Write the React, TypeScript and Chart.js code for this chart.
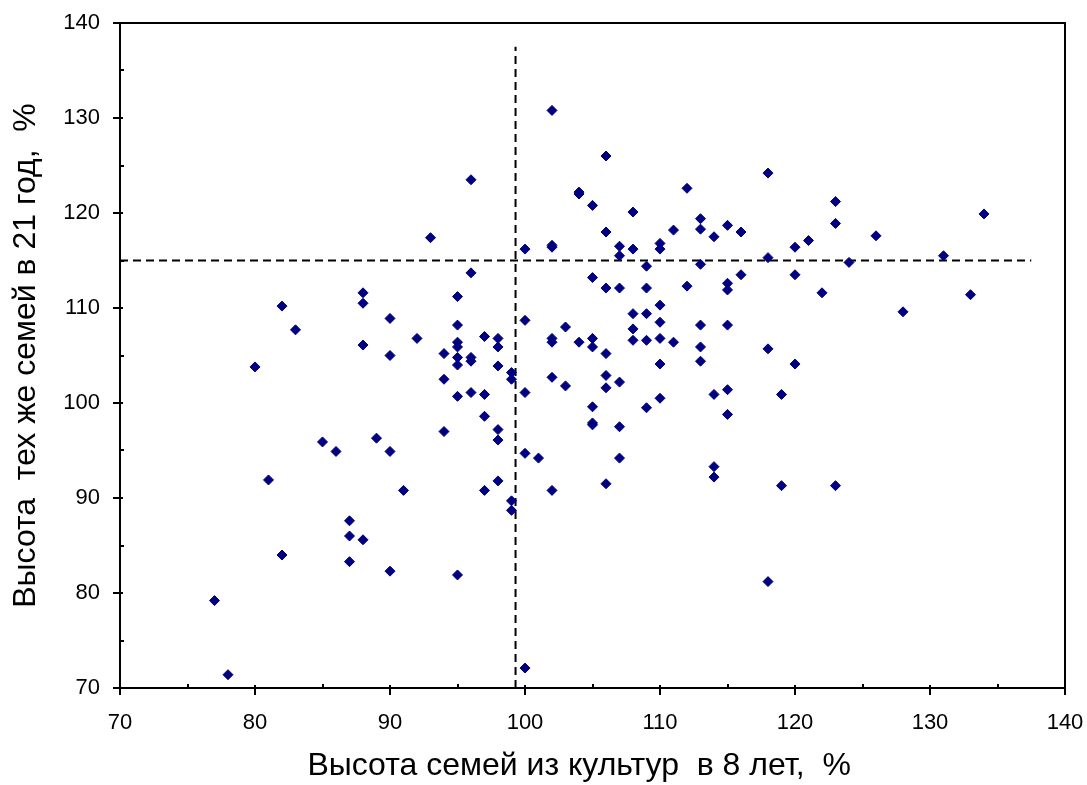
import React, { useEffect, useRef } from 'react';
import { Chart, registerables } from 'chart.js';

Chart.register(...registerables);

// Seed height at age 8 (%), x values
const seedX = [
  88, 88, 82, 90, 83, 92, 88, 90, 80, 85, 86, 89, 90, 81, 91, 87, 87, 88, 82, 87, 90, 77, 78,
  102, 106, 96, 104, 104, 105, 106, 93, 100, 102, 102, 107, 107, 96, 105, 106, 107, 95, 100,
  103, 95, 97, 98, 98, 95, 95, 102, 102, 104, 105, 105, 106, 94, 95, 95, 96, 96, 98, 99, 99,
  94, 102, 103, 106, 106, 107, 95, 96, 97, 100, 105,
  97, 94, 98, 98, 105, 105, 107, 100, 101, 107, 98, 97, 102, 106, 99, 99, 95, 100,
  118, 112, 108, 113, 113, 111, 114, 115, 116, 108, 110, 110, 120, 121, 118, 109, 113, 116,
  120, 109, 112, 115, 115, 108, 109, 110, 110, 113, 115, 108, 108, 109, 110, 111, 113, 118,
  113, 110, 120, 109, 110, 114, 115, 119, 115,
  114, 114, 119, 118,
  123, 123, 126, 134, 124, 131, 122, 133, 128, 123,
];

// Same families' height at age 21 (%), y values
const seedY = [
  111.6, 110.5, 110.2, 108.9, 107.7, 106.8, 106.1, 105.0, 103.8, 95.9, 94.9, 96.3, 94.9, 91.9,
  90.8, 87.6, 86.0, 85.6, 84.0, 83.3, 82.3, 79.2, 71.4,
  130.8, 126.0, 123.5, 122.0, 122.2, 120.8, 118.0, 117.4, 116.2, 116.6, 116.4, 116.5, 115.5,
  113.7, 113.2, 112.1, 112.1, 111.2, 108.7, 108.0, 108.2, 107.0, 106.8, 105.9, 106.4, 105.9,
  106.8, 106.4, 106.4, 106.8, 105.9, 105.2, 105.2, 104.8, 104.0, 104.8, 104.4, 103.9, 103.2,
  102.5, 102.5, 102.7, 101.8, 102.9, 101.6, 102.2, 100.7, 101.1, 100.9, 101.1, 99.6,
  98.6, 97.0, 97.2, 96.1, 97.9, 97.7, 97.5, 94.7, 94.2, 94.2, 91.8, 90.8, 90.8, 91.5, 89.7,
  88.7, 81.9, 72.1,
  124.2, 122.6, 120.1, 119.4, 118.3, 118.2, 117.5, 118.7, 118.0, 116.2, 116.8, 116.2, 116.4,
  117.1, 115.3, 114.4, 114.6, 113.5, 113.5, 112.1, 112.3, 112.6, 111.9, 109.4, 109.4, 110.3,
  108.5, 108.2, 108.2, 107.8, 106.6, 106.6, 106.8, 106.4, 105.9, 105.7, 104.4, 104.1, 104.1,
  99.5, 100.5, 100.9, 101.4, 100.9, 98.8,
  93.3, 92.2, 91.3, 81.2,
  121.2, 118.9, 117.6, 119.9, 114.8, 115.5, 111.6, 111.4, 109.6, 91.3,
];

// Reference (mean) lines
const meanX = 99.3;
const meanY = 115;
const lineEnd = [70, 137.5];

// Axes
const axisMin = 70;
const axisMax = 140;
const axisStep = 10;
const xTitle = 'Высота семей из культур  в 8 лет,  %   ';
const yTitle = 'Высота  тех же семей в 21 год,  %';

const FONT = "'Liberation Sans', Arial, sans-serif";

const frameTicks = {
  id: 'frameTicks',
  afterDraw(chart: any) {
    const { ctx, chartArea } = chart;
    const xs = chart.scales.x;
    const ys = chart.scales.y;
    ctx.save();
    ctx.strokeStyle = '#000';
    ctx.lineWidth = 2;
    ctx.beginPath();
    ctx.moveTo(chartArea.left, chartArea.top);
    ctx.lineTo(chartArea.right, chartArea.top);
    ctx.lineTo(chartArea.right, chartArea.bottom);
    ctx.stroke();
    for (let v = axisMin; v <= axisMax; v += axisStep / 2) {
      const major = (v - axisMin) % axisStep === 0;
      const px = Math.round(xs.getPixelForValue(v));
      const py = Math.round(ys.getPixelForValue(v));
      ctx.beginPath();
      if (major) {
        ctx.moveTo(px, chartArea.bottom - 3);
        ctx.lineTo(px, chartArea.bottom + 7);
        ctx.moveTo(chartArea.left - 7, py);
        ctx.lineTo(chartArea.left + 3, py);
      } else {
        ctx.moveTo(px, chartArea.bottom - 4);
        ctx.lineTo(px, chartArea.bottom);
        ctx.moveTo(chartArea.left, py);
        ctx.lineTo(chartArea.left + 4, py);
      }
      ctx.stroke();
    }
    ctx.restore();
  },
};

export default function App() {
  const ref = useRef<HTMLCanvasElement>(null);
  useEffect(() => {
    if (!ref.current) return;
    const points = seedX.map((x, i) => ({ x, y: seedY[i] }));
    const chart = new Chart(ref.current, {
      type: 'scatter',
      data: {
        datasets: [
          {
            data: points,
            pointStyle: 'rectRot',
            pointRadius: 5,
            borderWidth: 1,
            backgroundColor: '#000080',
            borderColor: '#000080',
          },
          {
            data: lineEnd.map((y) => ({ x: meanX, y })),
            showLine: true,
            pointRadius: 0,
            borderColor: '#000',
            borderWidth: 2,
            borderDash: [8, 5],
          },
          {
            data: lineEnd.map((x) => ({ x, y: meanY })),
            showLine: true,
            pointRadius: 0,
            borderColor: '#000',
            borderWidth: 2,
            borderDash: [8, 5],
          },
        ],
      },
      options: {
        animation: false,
        responsive: false,
        events: [],
        layout: { padding: { top: 23, right: 22, left: 0, bottom: 0 } },
        plugins: { legend: { display: false }, tooltip: { enabled: false } },
        scales: {
          x: {
            type: 'linear',
            min: axisMin,
            max: axisMax,
            ticks: { stepSize: axisStep, color: '#000', padding: 22, font: { family: FONT, size: 22 } },
            grid: { display: false, drawTicks: false },
            border: { display: true, color: '#000', width: 2 },
            title: {
              display: true,
              text: xTitle,
              color: '#000',
              font: { family: FONT, size: 32 },
              padding: { top: 0, bottom: 0 },
            },
            afterFit: (s: any) => {
              s.height = 97;
              s.paddingLeft = 0;
              s.paddingRight = 0;
            },
          },
          y: {
            type: 'linear',
            min: axisMin,
            max: axisMax,
            ticks: { stepSize: axisStep, color: '#000', padding: 20, font: { family: FONT, size: 22 } },
            grid: { display: false, drawTicks: false },
            border: { display: true, color: '#000', width: 2 },
            title: {
              display: true,
              text: yTitle,
              color: '#000',
              font: { family: FONT, size: 32 },
              padding: { top: 7, bottom: 0 },
            },
            afterFit: (s: any) => {
              s.width = 120;
              s.paddingTop = 0;
              s.paddingBottom = 0;
            },
          },
        },
      },
      plugins: [frameTicks],
    });
    return () => chart.destroy();
  }, []);
  return (
    <div style={{ position: 'fixed', left: 0, top: 0, width: 1087, height: 785, background: '#fff' }}>
      <canvas ref={ref} width={1087} height={785} />
    </div>
  );
}
